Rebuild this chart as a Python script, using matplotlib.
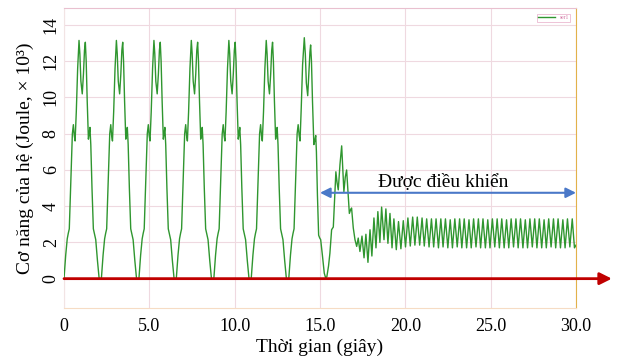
import matplotlib.pyplot as plt

plt.rcParams['font.family'] = ['Liberation Serif', 'DejaVu Serif']

# one free oscillation cycle: time after the flat minimum (s), energy (x10^3 J)
cycle_dt = [0.00, 0.10, 0.19, 0.25, 0.31, 0.40, 0.49, 0.55, 0.60, 0.65, 0.72, 0.80,
            0.88, 0.93, 0.99, 1.07, 1.14, 1.20, 1.25, 1.30, 1.36, 1.43, 1.47, 1.52,
            1.57, 1.64, 1.72, 1.78, 1.86, 1.96, 2.06]
cycle_e = [0.0, 1.3, 2.2, 2.5, 2.75, 5.3, 8.0, 8.5, 7.9, 7.6, 9.2, 11.6,
           13.15, 12.4, 10.9, 10.2, 11.3, 12.6, 13.05, 12.0, 9.8, 7.7, 7.95, 8.35,
           7.4, 5.0, 2.75, 2.5, 2.15, 1.0, 0.0]
cycle_starts = [0.0, 2.19, 4.39, 6.58, 8.78, 10.97]

# last free cycle and the switch to control
t_switch = [13.17, 13.27, 13.36, 13.42, 13.48, 13.57, 13.66, 13.72, 13.78, 13.83, 13.90, 13.98,
            14.08, 14.14, 14.20, 14.28, 14.35, 14.41, 14.45, 14.50, 14.56, 14.64, 14.69, 14.75,
            14.79, 14.85, 14.92, 14.98, 15.04, 15.14, 15.25, 15.33, 15.40, 15.50, 15.58, 15.68,
            15.78, 15.86, 15.93, 16.00, 16.07, 16.17, 16.27, 16.34, 16.40, 16.48, 16.56, 16.64,
            16.72, 16.79, 16.85, 16.95, 17.05, 17.15, 17.24, 17.34, 17.46, 17.58, 17.69, 17.81,
            17.93, 18.04, 18.16, 18.28, 18.39, 18.51, 18.61, 18.75, 18.86, 18.98, 19.10, 19.22,
            19.33, 19.47]
e_switch = [0.0, 1.3, 2.2, 2.5, 2.75, 5.3, 8.0, 8.5, 7.9, 7.6, 9.4, 11.8,
            13.3, 12.4, 10.8, 10.1, 11.4, 12.5, 12.9, 12.0, 9.8, 7.4, 7.6, 7.9,
            7.0, 4.6, 2.4, 2.25, 2.15, 1.3, 0.3, 0.05, 0.1, 0.7, 1.4, 2.7,
            2.85, 4.5, 5.9, 5.3, 4.9, 6.3, 7.33, 6.0, 4.8, 5.6, 6.0, 4.8,
            3.6, 3.8, 3.9, 2.8, 2.15, 1.78, 2.24, 1.5, 2.35, 1.15, 2.45, 0.9,
            2.7, 1.25, 3.35, 1.7, 3.7, 2.0, 3.95, 2.15, 3.85, 1.95, 3.6, 1.7,
            3.3, 1.6]

# steady oscillation under control
t_ctrl = [19.60, 19.74, 19.88, 20.01, 20.15, 20.29, 20.43, 20.56, 20.70, 20.84,
          20.98, 21.11, 21.25, 21.39, 21.53, 21.66, 21.80, 21.94, 22.08, 22.21,
          22.35, 22.49, 22.63, 22.76, 22.90, 23.04, 23.18, 23.31, 23.45, 23.59,
          23.73, 23.86, 24.00, 24.14, 24.28, 24.41, 24.55, 24.69, 24.83, 24.96,
          25.10, 25.24, 25.38, 25.51, 25.65, 25.79, 25.93, 26.06, 26.20, 26.34,
          26.48, 26.61, 26.75, 26.89, 27.03, 27.16, 27.30, 27.44, 27.58, 27.71,
          27.85, 27.99, 28.13, 28.26, 28.40, 28.54, 28.68, 28.81, 28.95, 29.09,
          29.23, 29.36, 29.50, 29.64, 29.78, 29.91, 30.00]
e_ctrl = [3.15, 1.65, 3.2, 1.75, 3.35, 1.8, 3.4, 1.85, 3.4, 1.85,
          3.35, 1.8, 3.3, 1.75, 3.3, 1.75, 3.3, 1.7, 3.3, 1.75,
          3.3, 1.7, 3.25, 1.7, 3.3, 1.75, 3.3, 1.7, 3.3, 1.7,
          3.25, 1.7, 3.3, 1.75, 3.3, 1.7, 3.3, 1.7, 3.25, 1.7,
          3.3, 1.75, 3.3, 1.7, 3.3, 1.7, 3.25, 1.7, 3.3, 1.75,
          3.3, 1.7, 3.3, 1.7, 3.25, 1.7, 3.3, 1.75, 3.3, 1.7,
          3.3, 1.7, 3.25, 1.7, 3.3, 1.75, 3.3, 1.7, 3.3, 1.7,
          3.25, 1.7, 3.3, 1.75, 3.3, 1.7, 1.85]

xticks = [0, 5, 10, 15, 20, 25, 30]
xtick_labels = ['0', '5.0', '10.0', '15.0', '20.0', '25.0', '30.0']
yticks = [0, 2, 4, 6, 8, 10, 12, 14]

t_all, e_all = [], []
for s in cycle_starts:
    t_all += [s + d for d in cycle_dt]
    e_all += cycle_e
t_all += t_switch + t_ctrl
e_all += e_switch + e_ctrl

fig = plt.figure(figsize=(6.21, 3.6), dpi=100)
ax = fig.add_axes([64/621, 1 - 308/360, 512/621, 300/360])

ax.plot(t_all, e_all, color='#2f962f', lw=1.0, label='ser1', zorder=3)

ax.set_xlim(0, 30)
ax.set_ylim(-1.62, 14.94)
ax.set_xticks(xticks)
ax.set_xticklabels(xtick_labels)
ax.set_yticks(yticks)
ax.tick_params(length=0, labelsize=13)
ax.tick_params(axis='x', pad=7)
ax.tick_params(axis='y', pad=3)
plt.setp(ax.get_yticklabels(), rotation=90, va='center')
ax.grid(True, color='#efd9e0', lw=0.8)
ax.set_axisbelow(True)

ax.spines['top'].set_color('#e9c0cf')
ax.spines['right'].set_color('#e2b24a')
ax.spines['bottom'].set_color('#f6dcc4')
ax.spines['left'].set_color('#f2e4e4')

ax.set_xlabel('Thời gian (giây)', fontsize=14, labelpad=3)
ax.set_ylabel('Cơ năng của hệ (Joule, × 10³)', fontsize=14, labelpad=6)

# zero line running past the axes
ax.annotate('', xy=(32.1, 0), xytext=(0, 0), annotation_clip=False,
            arrowprops=dict(arrowstyle='-|>', color='#c00000', lw=2,
                            mutation_scale=18, shrinkA=0, shrinkB=0), zorder=4)
# controlled interval
ax.annotate('', xy=(15.0, 4.74), xytext=(30, 4.74), annotation_clip=False,
            arrowprops=dict(arrowstyle='<|-|>', color='#4a78c8', lw=1.5,
                            mutation_scale=15, shrinkA=0, shrinkB=0), zorder=4)
ax.text(22.2, 5.3, 'Được điều khiển', ha='center', va='center', fontsize=14)

leg = ax.legend(loc='upper right', fontsize=4, handlelength=3, fancybox=False,
                borderpad=0.3, borderaxespad=1.0, labelcolor='#d070a0')
leg.get_frame().set_edgecolor('#e6a8c6')
leg.get_frame().set_linewidth(0.6)

plt.savefig('out.png', dpi=100)
